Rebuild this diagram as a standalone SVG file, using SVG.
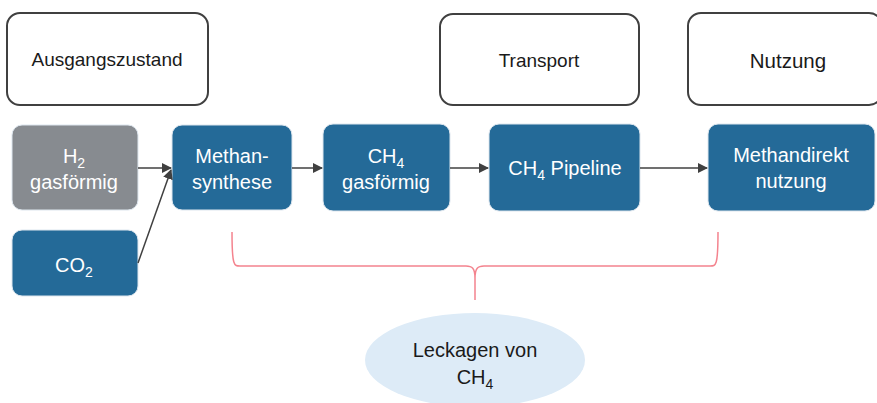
<svg xmlns="http://www.w3.org/2000/svg" width="877" height="403" viewBox="0 0 877 403">
<defs>
<marker id="ah" markerWidth="10" markerHeight="10" refX="9" refY="5" orient="auto" markerUnits="userSpaceOnUse">
<path d="M0,0 L10,5 L0,10 Z" fill="#404040"/>
</marker>
<style>
.hdr{fill:#fff;stroke:#404040;stroke-width:2}
.blue{fill:#246A98;stroke:#dde6ee;stroke-width:1}
.gray{fill:#878B90;stroke:#dde6ee;stroke-width:1}
.t{font-family:"Liberation Sans",Arial,sans-serif;text-anchor:middle}
.w{fill:#fff;font-size:20px}
.k{fill:#1a1a1a}
.sub{font-size:14px}
.con{stroke:#404040;stroke-width:1.5;fill:none}
</style>
</defs>
<g id="ausgangszustand"><rect class="hdr" x="7" y="13" width="201" height="92" rx="13"/><text class="t k" x="107" y="66" font-size="19">Ausgangszustand</text></g>
<g id="transport"><rect class="hdr" x="440" y="14" width="199" height="91" rx="13"/><text class="t k" x="539" y="67" font-size="19">Transport</text></g>
<g id="nutzung"><rect class="hdr" x="688" y="13" width="194" height="92" rx="13"/><text class="t k" x="788" y="68" font-size="20.5">Nutzung</text></g>
<g id="h2"><rect class="gray" x="12" y="125" width="126" height="85" rx="10"/><text class="t w" x="74" y="163">H<tspan class="sub" dy="5">2</tspan></text><text class="t w" x="74" y="189">gasförmig</text></g>
<g id="co2"><rect class="blue" x="12" y="230" width="126" height="66" rx="10"/><text class="t w" x="74" y="272">CO<tspan class="sub" dy="5">2</tspan></text></g>
<g id="methansynthese"><rect class="blue" x="172" y="125" width="120" height="85" rx="10"/><text class="t w" x="232" y="163">Methan-</text><text class="t w" x="232" y="189">synthese</text></g>
<g id="ch4gas"><rect class="blue" x="323" y="124" width="127" height="87" rx="10"/><text class="t w" x="386" y="163">CH<tspan class="sub" dy="5">4</tspan></text><text class="t w" x="386" y="189">gasförmig</text></g>
<g id="pipeline"><rect class="blue" x="489" y="124" width="151" height="87" rx="10"/><text class="t w" x="565" y="175">CH<tspan class="sub" dy="5">4</tspan><tspan dy="-5"> Pipeline</tspan></text></g>
<g id="methandirekt"><rect class="blue" x="708" y="124" width="167" height="87" rx="10"/><text class="t w" x="791" y="162">Methandirekt</text><text class="t w" x="791" y="188">nutzung</text></g>
<g id="leckagen"><ellipse cx="475" cy="360" rx="110" ry="47" fill="#DDEBF7"/><text class="t k" x="475" y="357" font-size="20">Leckagen von</text><text class="t k" x="475" y="384" font-size="20">CH<tspan class="sub" dy="5">4</tspan></text></g>
<g id="connectors">
<line class="con" x1="138" y1="168" x2="171" y2="168" marker-end="url(#ah)"/>
<line class="con" x1="138" y1="263" x2="171" y2="170" marker-end="url(#ah)"/>
<line class="con" x1="292" y1="168" x2="322" y2="168" marker-end="url(#ah)"/>
<line class="con" x1="450" y1="168" x2="488" y2="168" marker-end="url(#ah)"/>
<line class="con" x1="640" y1="168" x2="707" y2="168" marker-end="url(#ah)"/>
<path d="M232,232 C232,266 234,266 240,266 L466,266 C472,266 475,268 475,278 L475,300 M475,278 C475,268 478,266 484,266 L710,266 C716,266 718,266 718,232" fill="none" stroke="#F4838E" stroke-width="1.5"/>
</g>
</svg>
